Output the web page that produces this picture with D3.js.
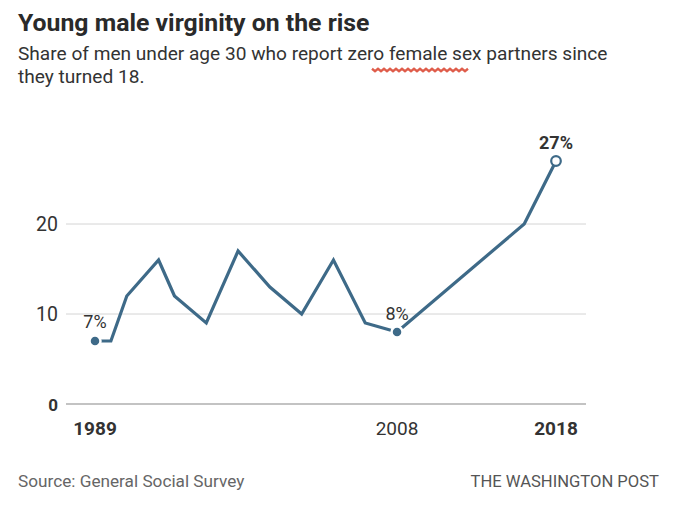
<!DOCTYPE html>
<html><head><meta charset="utf-8">
<script src="https://cdn.jsdelivr.net/npm/d3@7"></script>
<style>
body{margin:0;background:#fff;}
svg{display:block;font-family:Roboto,"Liberation Sans",sans-serif;}
</style></head><body>
<svg id="c" width="680" height="513"></svg>
<script>
const years = [1989,1990,1991,1993,1994,1996,1998,2000,2002,2004,2006,2008,2016,2018];
const shares = [7,7,12,16,12,9,17,13,10,16,9,8,20,27];
const yTicks = [0,10,20];
const xTickLabels = [1989,2008,2018];
const title = "Young male virginity on the rise";
const subtitle = ["Share of men under age 30 who report zero female sex partners since","they turned 18."];
const source = "Source: General Social Survey";
const credit = "THE WASHINGTON POST";

const svg = d3.select("#c");
const x = d3.scaleLinear().domain([1989,2018]).range([95,556]);
const y = d3.scaleLinear().domain([0,10]).range([404,314]);
const lineColor = "#3e6a88";

svg.append("text").attr("x",18).attr("y",31).attr("font-size",24.8).attr("font-weight",700).attr("fill","#2a2a2a").text(title);
subtitle.forEach((s,i)=>svg.append("text").attr("x",18).attr("y",60+i*23).attr("font-size",19.1).attr("fill","#333").text(s));

// spell-check squiggle under "female"
const sq = d3.range(372,470,3).map((px,i)=>[px,70+(i%2?1.2:-1.2)]);
svg.append("path").attr("d",d3.line()(sq)).attr("fill","none").attr("stroke","#d9412b").attr("stroke-width",2.4).attr("opacity",0.85);

// gridlines
const grid = svg.append("g");
grid.selectAll("line").data(yTicks.filter(d=>d>0)).join("line")
  .attr("x1",66).attr("x2",586).attr("y1",d=>y(d)).attr("y2",d=>y(d))
  .attr("stroke","#d4d4d4").attr("stroke-width",1);
svg.append("line").attr("x1",66).attr("x2",586).attr("y1",y(0)).attr("y2",y(0)).attr("stroke","#888").attr("stroke-width",1.2);

// y labels
svg.append("g").selectAll("text").data(yTicks).join("text")
  .attr("x",58).attr("y",d=>y(d)+7).attr("text-anchor","end")
  .attr("font-size",d=>d===0?17:19.5).attr("font-weight",d=>d===0?700:400)
  .attr("fill","#333").text(d=>d);

// x labels
svg.append("g").selectAll("text").data(xTickLabels).join("text")
  .attr("x",d=>x(d)).attr("y",435).attr("text-anchor","middle")
  .attr("font-size",19).attr("font-weight",d=>d===2008?400:700)
  .attr("fill","#333").text(d=>d);

// line
const pts = years.map((yr,i)=>({yr,v:shares[i]}));
svg.append("path").datum(pts)
  .attr("d",d3.line().x(d=>x(d.yr)).y(d=>y(d.v)))
  .attr("fill","none").attr("stroke",lineColor).attr("stroke-width",3.2).attr("stroke-linejoin","miter");

// dots
const first = pts[0], mid = pts[years.indexOf(2008)], last = pts[pts.length-1];
[first,mid].forEach(p=>{
  svg.append("circle").attr("cx",x(p.yr)).attr("cy",y(p.v)).attr("r",5.5)
    .attr("fill",lineColor).attr("stroke","#fff").attr("stroke-width",2.5);
});
svg.append("circle").attr("cx",x(last.yr)).attr("cy",y(last.v)).attr("r",4.8)
  .attr("fill","#fff").attr("stroke",lineColor).attr("stroke-width",2.2);

// value labels
svg.append("text").attr("x",x(first.yr)).attr("y",y(first.v)-13).attr("text-anchor","middle").attr("font-size",18).attr("fill","#333").text(first.v+"%");
svg.append("text").attr("x",x(mid.yr)).attr("y",y(mid.v)-12).attr("text-anchor","middle").attr("font-size",18).attr("fill","#333").text(mid.v+"%");
svg.append("text").attr("x",x(last.yr)).attr("y",y(last.v)-12).attr("text-anchor","middle").attr("font-size",18).attr("font-weight",700).attr("fill","#333").text(last.v+"%");

// footer
svg.append("text").attr("x",18).attr("y",487).attr("font-size",17.2).attr("fill","#666").text(source);
svg.append("text").attr("x",659).attr("y",487).attr("text-anchor","end").attr("font-size",16.6).attr("fill","#555").text(credit);
</script></body></html>
